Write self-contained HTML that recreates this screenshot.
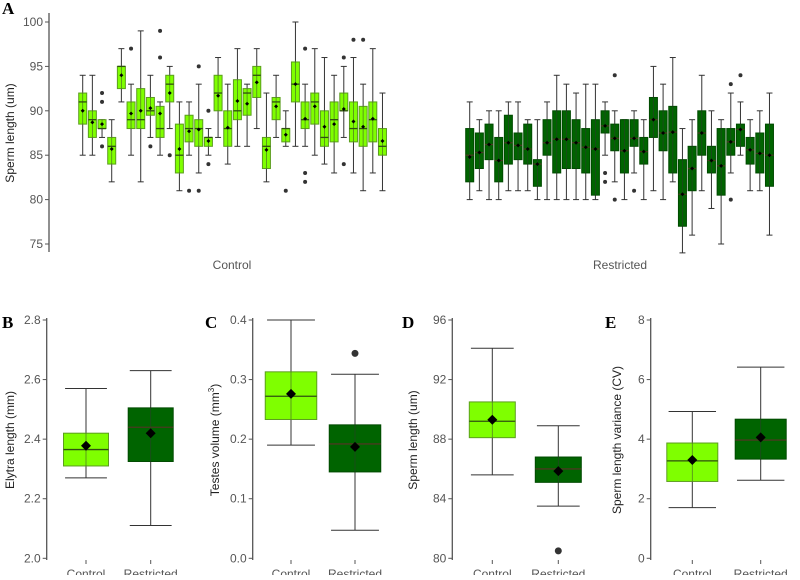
<!DOCTYPE html>
<html><head><meta charset="utf-8"><style>
body{margin:0;background:#fff;}
svg text{font-family:"Liberation Sans",sans-serif;}
svg text.serif{font-family:"Liberation Serif",serif;}
</style></head><body>
<svg id="chart" width="800" height="575" viewBox="0 0 800 575" xmlns="http://www.w3.org/2000/svg"></svg>
<script>
// Panel A data: [lowWhisker, q1, median, q3, highWhisker, mean, outliers]
const controlBoxes = [
[85,88.5,91,92,94,90,[]],[85,87,89,90,94,88.7,[]],[87,88,88,89,89,88.5,[92,91,86]],[82,84,86,87,89,85.7,[]],
[91,92.5,95,95,97,94,[]],[85,88,89,91,93,89.7,[97]],[82,88,89,92.5,99,90,[]],[87,89.5,90,91.5,94,90.3,[86]],
[85,87,88,90.5,91,89.7,[99,96]],[88,91,93,94,95,92,[85]],[81,83,85,88.5,91,85.7,[]],[85,86.5,88,89.5,91,87.7,[81]],
[83,86,88,89,93,87.9,[95,81]],[85,86,87,87,88,86.6,[90,84]],[87,90,92,94,96,91.7,[]],[84,86,88,90,93,88.1,[]],
[86,89,90,93.5,97,91.1,[]],[86,89.5,92,92.5,93,90.8,[]],[88,91.5,94,95,97,93.2,[]],[82,83.5,86,87,92,85.6,[]],
[87,89,91,91.5,94,90.5,[]],[86,86.5,88,88,90,87.3,[81]],[86,91,93,95.5,100,93,[]],[86,88,89,91,93,89.1,[97,83,82]],
[85,88.5,91,92,97,90.5,[]],[84,86,87,90,96,88.2,[]],[83,86.5,89,91,94,88.5,[]],[87,90,90,92,95,90.2,[96,84]],
[83,86.5,88,91,96,88.8,[98]],[81,86,88,90.5,93,88.2,[98]],[83,86.5,89,91,97,89.1,[]],[81,85,86,88,92,86.6,[]]
];
const restrictedBoxes = [
[80,82,85,88,91,84.8,[]],[81,83.5,85.3,87.5,89,85.3,[]],[80,84.5,86.2,88.5,90,86.2,[]],[80,82,84.4,87,90,84.4,[]],
[81,84,86.4,89.5,91,86.4,[]],[81,84.5,86.1,87.5,91,86.1,[]],[81,84,85.7,88.5,89,85.7,[]],[80,81.5,84,84.5,89,84,[]],
[80,85,86.4,89,91,86.4,[]],[80,83,86.8,90,94,86.8,[]],[80,83.5,86.8,90,93,86.8,[]],[80,83.5,86.4,89,92,86.4,[]],
[80,83,85.9,88,93,85.9,[]],[80,80.5,85.7,89,93,85.7,[]],[85,87.5,88.3,90,91,88.3,[83,82]],[82,85.5,86.9,88.5,90,86.9,[94,80]],
[80,83,85.5,89,89,85.5,[]],[83,86,86.9,89,90,86.9,[81]],[80,84,85.4,87,89,85.4,[]],[81,87,89,91.5,95,89,[]],
[80,85.5,87.5,90,93,87.5,[]],[82,83,87.6,90.5,96,87.6,[]],[74,77,80.6,84.5,88,80.6,[]],[76,81,83.5,86,89,83.5,[]],
[81,85,87.5,90,94,87.5,[]],[79,83,84.4,86,90,84.4,[]],[75,80.5,83.8,88,89,83.8,[]],[83,85,86.5,88,92,86.5,[93,80]],
[85,86,87.9,88.5,91,87.9,[94]],[81,84,85.6,87,89,85.6,[]],[81,83,85.2,87.5,90,85.2,[]],[76,81.5,85,88.5,92,85,[]]
];
const aTicks = [100,95,90,85,80,75];
// Bottom panels
const bCategories = ["Control","Restricted"];
const bElytra = [[2.27,2.31,2.365,2.42,2.57,2.378,[]],[2.11,2.325,2.44,2.505,2.63,2.42,[]]];
const bTicks = [2.0,2.2,2.4,2.6,2.8];
const cTestes = [[0.19,0.233,0.272,0.313,0.40,0.276,[]],[0.047,0.145,0.192,0.224,0.309,0.187,[0.344]]];
const cTicks = [0.0,0.1,0.2,0.3,0.4];
const dSperm = [[85.6,88.1,89.2,90.5,94.1,89.3,[]],[83.5,85.1,86.0,86.8,88.9,85.85,[80.5]]];
const dTicks = [80,84,88,92,96];
const eVar = [[1.7,2.58,3.27,3.87,4.93,3.3,[]],[2.62,3.33,3.97,4.67,6.42,4.06,[]]];
const eTicks = [0,2,4,6,8];

const svg = document.getElementById('chart');
const NS = 'http://www.w3.org/2000/svg';
function mk(tag, attrs, parent){const e=document.createElementNS(NS,tag);for(const k in attrs)e.setAttribute(k,attrs[k]);(parent||svg).appendChild(e);return e;}
const LIGHT = {fill:'#7fff00',stroke:'#5c9e1e',med:'#2f4f10'};
const DARK = {fill:'#006400',stroke:'#004a00',med:'#4a3a20'};

function drawBox(g, d, cx, w, capW, y, col, meanR, outR){
  const wl = mk('line',{x1:cx,x2:cx,y1:y(d[4]),y2:y(d[0]),stroke:'#333','stroke-width':1},g);
  
  
  [d[0],d[4]].forEach(v=>{const c=mk('line',{x1:cx-capW/2,x2:cx+capW/2,y1:y(v),y2:y(v),stroke:'#333','stroke-width':1},g);
    
    });
  const r = mk('rect',{x:cx-w/2,y:y(d[3]),width:w,height:Math.max(0.5,y(d[1])-y(d[3])),fill:col.fill,stroke:col.stroke,'stroke-width':1},g);
  
  
  const wl2 = mk('line',{x1:cx,x2:cx,y1:y(d[3]),y2:y(d[1]),stroke:'#333','stroke-width':0.8,'stroke-opacity':0.6},g);
  
  
  const m = mk('line',{x1:cx-w/2,x2:cx+w/2,y1:y(d[2]),y2:y(d[2]),stroke:col.med,'stroke-width':1.3},g);
  
  
  const my=y(d[5]);
  const dm = mk('polygon',{points:`${cx},${my-meanR} ${cx+meanR},${my} ${cx},${my+meanR} ${cx-meanR},${my}`,fill:'#000'},g);
  
  
  (d[6]||[]).forEach(v=>{const o=mk('circle',{cx:cx,cy:y(v),r:outR,fill:'#333'},g);
    
    });
}
function yAxis(g, x, y, ticks, top, bottom, fmt){
  const l = mk('line',{x1:x,x2:x,y1:top,y2:bottom,stroke:'#555','stroke-width':1.3},g);
  
  
  ticks.forEach(t=>{
    const tk=mk('line',{x1:x-4,x2:x,y1:y(t),y2:y(t),stroke:'#555','stroke-width':1},g);
    
    
    const tx=mk('text',{x:x-6,y:y(t)+4,'text-anchor':'end','font-size':12,fill:'#555'},g);
    tx.textContent=fmt(t);
    
    
  });
}
function label(g,txt,x,y,opts){const t=mk('text',Object.assign({x:x,y:y},opts),g);t.textContent=txt;return t;}

// Panel A
const gA = mk('g',{});


const yA = v => 22 + (100 - v) * 8.88;
yAxis(gA, 49, yA, aTicks, 13, 252, t=>String(t));
controlBoxes.forEach((d,i)=>drawBox(gA,d,82.7+i*9.67,8,6,yA,LIGHT,2,2));
restrictedBoxes.forEach((d,i)=>drawBox(gA,d,469.7+i*9.67,8,6,yA,DARK,2,2));
let t;
t=label(gA,'A',2,14,{'class':'serif','style':'font-family:"Liberation Serif",serif;font-weight:bold','font-size':17,fill:'#000'});


t=label(gA,'Sperm length (um)',0,0,{'font-size':12,fill:'#222','text-anchor':'middle',transform:'translate(14,133) rotate(-90)'});


t=label(gA,'Control',232,269,{'font-size':12,fill:'#555','text-anchor':'middle'});


t=label(gA,'Restricted',620,269,{'font-size':12,fill:'#555','text-anchor':'middle'});



// Bottom panels
function panel(name, letter, letterX, axisX, c1, c2, bw, data, ticks, lo, hi, fmt, title, titleX){
  const g = mk('g',{});
  
  
  const y = v => 558.3 - (v - lo) / (hi - lo) * 238.3;
  yAxis(g, axisX, y, ticks, 318, 560, fmt);
  [c1,c2].forEach((cx,i)=>{
    drawBox(g,data[i],cx,bw,bw*0.93,y,i?DARK:LIGHT,5,3.5);
    const tk=mk('line',{x1:cx,x2:cx,y1:560,y2:564,stroke:'#555'},g);
    
    
    const tl=label(g,bCategories[i],cx,578,{'font-size':12,fill:'#555','text-anchor':'middle'});
    
    
  });
  let l=label(g,letter,letterX,328,{'class':'serif','style':'font-family:"Liberation Serif",serif;font-weight:bold','font-size':17,fill:'#000'});
  
  
  l=mk('text',{x:0,y:0,'font-size':12,fill:'#222','text-anchor':'middle',transform:`translate(${titleX},440) rotate(-90)`},g);
  l.innerHTML=title;
  
  
}
panel('panel-b','B',2,46.7,86,150.7,45,bElytra,bTicks,2.0,2.8,t=>t.toFixed(1),'Elytra length (mm)',14);
panel('panel-c','C',205,252.7,291,355,51.5,cTestes,cTicks,0,0.4,t=>t.toFixed(1),'Testes volume (mm<tspan dy="-5" font-size="8">3</tspan><tspan dy="5">)</tspan>',219);
panel('panel-d','D',402,452.3,492.3,558.3,46,dSperm,dTicks,80,96,t=>String(t),'Sperm length (um)',417);
panel('panel-e','E',605,650.7,692.3,760.7,51,eVar,eTicks,0,8,t=>String(t),'Sperm length variance (CV)',621);
</script>
</body></html>
